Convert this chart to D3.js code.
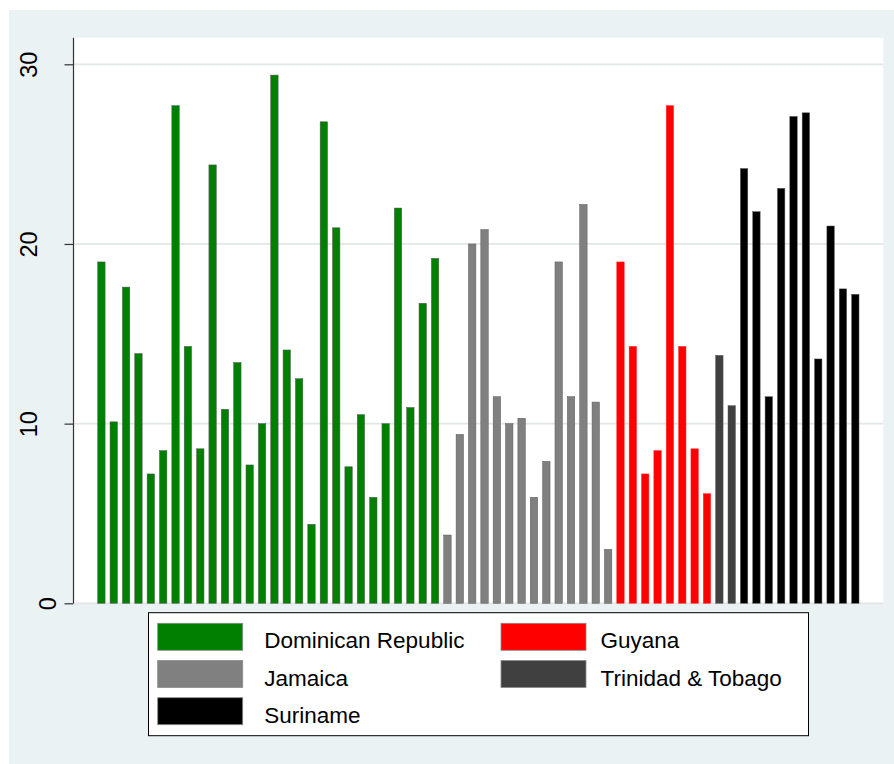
<!DOCTYPE html>
<html>
<head>
<meta charset="utf-8">
<script src="https://cdn.jsdelivr.net/npm/d3@7"></script>
<style>
  html, body { margin: 0; padding: 0; background: #ffffff; }
  svg { display: block; font-family: "Liberation Sans", Arial, Helvetica, sans-serif; }
</style>
</head>
<body>
<svg id="chart" width="894" height="764"></svg>
<script>
// Country groups, in the order the bars are drawn
const countries = ["Dominican Republic", "Jamaica", "Guyana", "Trinidad & Tobago", "Suriname"];
const countryColors = ["#007f00", "#808080", "#ff0000", "#404040", "#000000"];

// Values per country (one bar each)
const dominicanRepublic = [19.0, 10.1, 17.6, 13.9, 7.2, 8.5, 27.7, 14.3, 8.6, 24.4, 10.8, 13.4, 7.7, 10.0,
                           29.4, 14.1, 12.5, 4.4, 26.8, 20.9, 7.6, 10.5, 5.9, 10.0, 22.0, 10.9, 16.7, 19.2];
const jamaica = [3.8, 9.4, 20.0, 20.8, 11.5, 10.0, 10.3, 5.9, 7.9, 19.0, 11.5, 22.2, 11.2, 3.0];
const guyana = [19.0, 14.3, 7.2, 8.5, 27.7, 14.3, 8.6, 6.1];
const trinidadTobago = [13.8, 11.0];
const suriname = [24.2, 21.8, 11.5, 23.1, 27.1, 27.3, 13.6, 21.0, 17.5, 17.2];

// Y axis ticks
const yTicks = [0, 10, 20, 30];

// Legend layout order (two columns, row-major)
const legendOrder = ["Dominican Republic", "Guyana", "Jamaica", "Trinidad & Tobago", "Suriname"];

const seriesValues = [dominicanRepublic, jamaica, guyana, trinidadTobago, suriname];
const bars = [];
seriesValues.forEach((vals, ci) => {
  vals.forEach((v, i) => bars.push({ id: countries[ci] + "-" + i, country: countries[ci], value: v }));
});

const color = d3.scaleOrdinal().domain(countries).range(countryColors);

const svg = d3.select("#chart");

// Outer graph region
svg.append("rect")
  .attr("x", 9).attr("y", 10).attr("width", 885).attr("height", 754)
  .attr("fill", "#eaf2f3");

const plot = { left: 73.5, right: 883.3, top: 37.7, bottom: 603.3 };

// Plot region
svg.append("rect")
  .attr("x", plot.left).attr("y", plot.top)
  .attr("width", plot.right - plot.left).attr("height", plot.bottom - plot.top)
  .attr("fill", "#ffffff");

const y = d3.scaleLinear().domain([0, 30]).range([603.3, 64.3]);
const x = d3.scaleBand()
  .domain(bars.map(d => d.id))
  .range([91.5, 865.2])
  .paddingInner(0.4)
  .paddingOuter(0.5);

// Gridlines
svg.append("g")
  .selectAll("line")
  .data(yTicks)
  .join("line")
  .attr("x1", plot.left).attr("x2", plot.right)
  .attr("y1", d => y(d)).attr("y2", d => y(d))
  .attr("stroke", "#e2e6e6")
  .attr("stroke-width", 1.8);

// Bars
svg.append("g")
  .selectAll("rect")
  .data(bars)
  .join("rect")
  .attr("x", d => x(d.id))
  .attr("width", x.bandwidth())
  .attr("y", d => y(d.value))
  .attr("height", d => y(0) - y(d.value))
  .attr("fill", d => color(d.country))
  .attr("stroke", d => d.country === "Guyana" ? "#ff3030" : "#5a5a5a")
  .attr("stroke-width", 0.5);

// Y axis
const yAxis = d3.axisLeft(y).tickValues(yTicks).tickSize(9).tickPadding(0).tickFormat(d3.format("d"));
const gAxis = svg.append("g")
  .attr("transform", `translate(${plot.left},0)`)
  .call(yAxis);
gAxis.select(".domain").remove();
gAxis.append("line")
  .attr("x1", 0).attr("x2", 0)
  .attr("y1", plot.top).attr("y2", plot.bottom)
  .attr("stroke", "#333")
  .attr("stroke-width", 1.2);
gAxis.selectAll(".tick line").attr("stroke", "#333").attr("stroke-width", 1.2);
// Rotated labels; the zero label sits closer to the axis
gAxis.selectAll(".tick text")
  .attr("x", null).attr("dy", null)
  .attr("transform", d => `translate(${(d === 0 ? 56 : 36.5) - plot.left},0) rotate(-90)`)
  .attr("text-anchor", "middle")
  .attr("fill", "#000")
  .style("font-size", "23.5px")
  .style("font-family", "'Liberation Sans', Arial, sans-serif");

// Legend
const legend = svg.append("g");
legend.append("rect")
  .attr("x", 148.5).attr("y", 612.7)
  .attr("width", 660).attr("height", 123)
  .attr("fill", "#ffffff")
  .attr("stroke", "#000")
  .attr("stroke-width", 1);

const colX = [157.7, 501];
const textX = [264.3, 600.5];
const rowY = [623.3, 660.5, 697.7];

const items = legend.selectAll("g.item")
  .data(legendOrder)
  .join("g")
  .attr("class", "item")
  .attr("transform", (d, i) => `translate(${colX[i % 2]},${rowY[Math.floor(i / 2)]})`);

items.append("rect")
  .attr("width", 85).attr("height", 27)
  .attr("fill", d => color(d))
  .attr("stroke", "#8a8a8a")
  .attr("stroke-width", 0.8);

items.append("text")
  .attr("x", (d, i) => textX[i % 2] - colX[i % 2])
  .attr("y", 25)
  .attr("fill", "#000")
  .style("font-size", "22.5px")
  .text(d => d);
</script>
</body>
</html>
